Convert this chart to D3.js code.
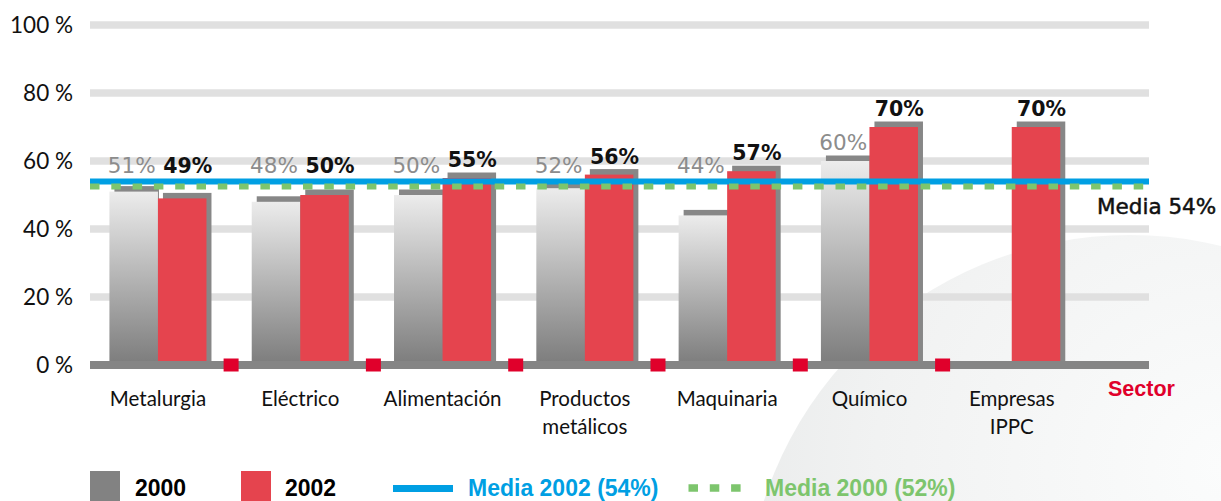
<!DOCTYPE html>
<html>
<head>
<meta charset="utf-8">
<script src="https://cdn.jsdelivr.net/npm/d3@7"></script>
<style>
  html, body { margin: 0; padding: 0; background: #ffffff; }
  svg { display: block; }
</style>
</head>
<body>
<svg id="chart" width="1221" height="501"></svg>
<script>
// ---- data ----
const categories = ["Metalurgia", "Eléctrico", "Alimentación", "Productos metálicos", "Maquinaria", "Químico", "Empresas IPPC"];
const categoryLines = [["Metalurgia"], ["Eléctrico"], ["Alimentación"], ["Productos", "metálicos"], ["Maquinaria"], ["Químico"], ["Empresas", "IPPC"]];
const series = ["2000", "2002"];
const values2000 = [51, 48, 50, 52, 44, 60, null];
const values2002 = [49, 50, 55, 56, 57, 70, 70];
const yTicks = [0, 20, 40, 60, 80, 100];
const mean2002 = 54;
const mean2000 = 52;
const meanLabel = "Media 54%";
const axisTitle = "Sector";
const legendLabels = ["2000", "2002", "Media 2002 (54%)", "Media 2000 (52%)"];

// ---- style ----
const C = {
  grid: "#e0e0e0", base: "#858585", shadow: "#878787",
  red: "#e5444e", marker: "#e0002b", blue: "#009fe3", green: "#7dc56d",
  grayText: "#8c8c8c", text: "#111111", legendGray: "#828282"
};

const svg = d3.select("#chart");
const defs = svg.append("defs");

// background globe
const rg = defs.append("radialGradient").attr("id", "globe")
  .attr("cx", "0.62").attr("cy", "0.3").attr("r", "0.75");
rg.append("stop").attr("offset", "0").attr("stop-color", "#fbfcfc");
rg.append("stop").attr("offset", "0.6").attr("stop-color", "#f1f2f2");
rg.append("stop").attr("offset", "1").attr("stop-color", "#e6e8e8");
svg.append("circle").attr("cx", 1130).attr("cy", 620).attr("r", 385).attr("fill", "url(#globe)");

const lg = defs.append("linearGradient").attr("id", "grayBar")
  .attr("x1", 0).attr("y1", 0).attr("x2", 0).attr("y2", 1);
lg.append("stop").attr("offset", "0").attr("stop-color", "#ececec");
lg.append("stop").attr("offset", "1").attr("stop-color", "#7c7c7c");

// ---- scales ----
const plotLeft = 90, plotRight = 1149;
const y = d3.scaleLinear().domain([0, 100]).range([365, 25]);
const x0 = d3.scaleBand().domain(categories).range([86.8, 86.8 + 142.3 * categories.length])
  .paddingInner(0.318).paddingOuter(0.159);
const x1 = d3.scaleBand().domain(series).range([0, x0.bandwidth()]);

// gridlines
svg.append("g").selectAll("line").data(yTicks.filter(d => d > 0)).join("line")
  .attr("x1", plotLeft).attr("x2", plotRight)
  .attr("y1", d => y(d)).attr("y2", d => y(d))
  .attr("stroke", C.grid).attr("stroke-width", 7.5);

// y axis labels
const yAxis = d3.axisLeft(y).tickValues(yTicks).tickSize(0).tickPadding(0).tickFormat(d => d + " %");
const ya = svg.append("g").attr("transform", "translate(73,0)").call(yAxis);
ya.select(".domain").remove();
ya.selectAll("text").attr("font-family", "Lato, 'Noto Sans', sans-serif").attr("font-size", 22.5)
  .attr("fill", C.text).attr("dy", "0.32em");

// bars
const shDx = 5, shDy = 5.5;
const groups = svg.append("g").selectAll("g").data(categories).join("g")
  .attr("transform", d => `translate(${x0(d)},0)`);

groups.each(function(cat, i) {
  const g = d3.select(this);
  const v0 = values2000[i], v2 = values2002[i];
  const w = x1.bandwidth();
  if (v0 != null) {
    g.append("rect").attr("x", x1("2000") + shDx).attr("y", y(v0) - shDy)
      .attr("width", w - shDx + 1).attr("height", y(0) - y(v0) + shDy).attr("fill", C.shadow);
    g.append("rect").attr("x", x1("2000")).attr("y", y(v0))
      .attr("width", w).attr("height", y(0) - y(v0)).attr("fill", "url(#grayBar)");
  }
  g.append("rect").attr("x", x1("2002") + shDx).attr("y", y(v2) - shDy)
    .attr("width", w).attr("height", y(0) - y(v2) + shDy).attr("fill", C.shadow);
  g.append("rect").attr("x", x1("2002")).attr("y", y(v2))
    .attr("width", w).attr("height", y(0) - y(v2)).attr("fill", C.red);
});

// baseline
svg.append("line").attr("x1", plotLeft).attr("x2", plotRight)
  .attr("y1", y(0)).attr("y2", y(0)).attr("stroke", C.base).attr("stroke-width", 8);

// markers between groups
svg.append("g").selectAll("rect").data(categories.slice(0, -1)).join("rect")
  .attr("x", d => x0(d) + x0.bandwidth() + x0.step() * 0.159 - 7.5 + 2)
  .attr("y", y(0) - 6.5).attr("width", 15).attr("height", 13).attr("fill", C.marker);

// mean lines
svg.append("line").attr("x1", plotLeft).attr("x2", plotRight)
  .attr("y1", y(mean2002)).attr("y2", y(mean2002))
  .attr("stroke", C.blue).attr("stroke-width", 6);
svg.append("line").attr("x1", plotLeft).attr("x2", plotRight)
  .attr("y1", y(mean2000) - 1.8).attr("y2", y(mean2000) - 1.8)
  .attr("stroke", C.green).attr("stroke-width", 6).attr("stroke-dasharray", "9.5 11.8");

// value labels
const capY = y(mean2002) - 8.5;
groups.each(function(cat, i) {
  const g = d3.select(this);
  const v0 = values2000[i], v2 = values2002[i];
  const w = x1.bandwidth();
  if (v0 != null) {
    g.append("text").attr("x", x1("2000") + w / 2 - 2).attr("y", Math.min(y(v0) - 11, capY))
      .attr("text-anchor", "middle").attr("font-family", "'DejaVu Sans', sans-serif")
      .attr("font-size", 21.5).attr("fill", C.grayText).text(v0 + "%");
  }
  g.append("text").attr("x", x1("2002") + w / 2 + 5.5).attr("y", Math.min(y(v2) - 11, capY))
    .attr("text-anchor", "middle").attr("font-family", "'DejaVu Sans', sans-serif")
    .attr("font-weight", "bold").attr("font-size", 20.5).attr("fill", C.text).text(v2 + "%");
});

// category labels
const cl = svg.append("g").selectAll("text").data(categories).join("text")
  .attr("text-anchor", "middle").attr("font-family", "Lato, 'Noto Sans', sans-serif")
  .attr("font-size", 20.5).attr("fill", C.text)
  .attr("transform", d => `translate(${x0(d) + x0.bandwidth() / 2},405.5)`);
cl.each(function(d, i) {
  d3.select(this).selectAll("tspan").data(categoryLines[i]).join("tspan")
    .attr("x", 0).attr("dy", (t, j) => j === 0 ? 0 : 28.5).text(t => t);
});

// axis title + mean label
svg.append("text").attr("x", 1108).attr("y", 396)
  .attr("font-family", "'Liberation Sans', Arial, sans-serif").attr("font-weight", "bold")
  .attr("font-size", 21.5).attr("fill", C.marker).text(axisTitle);
svg.append("text").attr("x", 1097).attr("y", 214)
  .attr("font-family", "'DejaVu Sans', sans-serif").attr("font-size", 21.5)
  .attr("fill", C.text).attr("stroke", C.text).attr("stroke-width", 0.5).text(meanLabel);

// legend
const lgFont = "'Liberation Sans', Arial, sans-serif";
const legend = svg.append("g");
legend.append("rect").attr("x", 90).attr("y", 471).attr("width", 30).attr("height", 30).attr("fill", C.legendGray);
legend.append("text").attr("x", 135).attr("y", 495.5).attr("font-family", lgFont).attr("font-weight", "bold")
  .attr("font-size", 23).attr("fill", "#000").text(legendLabels[0]);
legend.append("rect").attr("x", 241).attr("y", 471).attr("width", 30).attr("height", 30).attr("fill", C.red);
legend.append("text").attr("x", 285).attr("y", 495.5).attr("font-family", lgFont).attr("font-weight", "bold")
  .attr("font-size", 23).attr("fill", "#000").text(legendLabels[1]);
legend.append("line").attr("x1", 393).attr("x2", 453).attr("y1", 488.5).attr("y2", 488.5)
  .attr("stroke", C.blue).attr("stroke-width", 7);
legend.append("text").attr("x", 468).attr("y", 495.5).attr("font-family", lgFont).attr("font-weight", "bold")
  .attr("font-size", 23).attr("fill", C.blue).text(legendLabels[2]);
legend.append("line").attr("x1", 688.5).attr("x2", 742).attr("y1", 488).attr("y2", 488)
  .attr("stroke", C.green).attr("stroke-width", 7.5).attr("stroke-dasharray", "9.5 11.8");
legend.append("text").attr("x", 765).attr("y", 495.5).attr("font-family", lgFont).attr("font-weight", "bold")
  .attr("font-size", 23).attr("fill", C.green).text(legendLabels[3]);
</script>
</body>
</html>
